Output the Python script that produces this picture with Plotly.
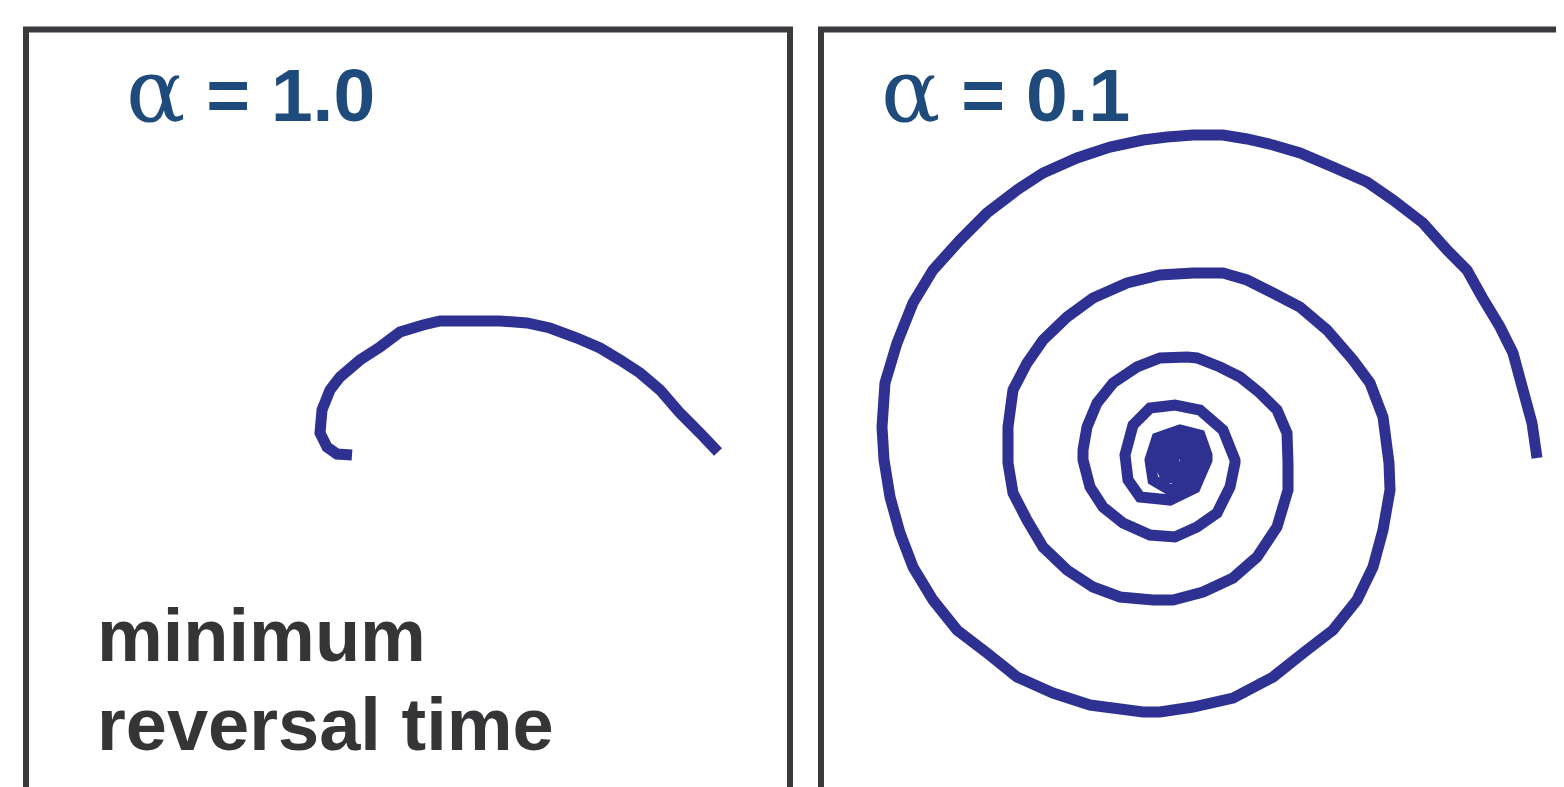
import plotly.graph_objects as go

# Panel labels
panel_labels = ["α = 1.0", "α = 0.1"]
caption_lines = ["minimum", "reversal time"]

# Left spiral (alpha = 1.0) (pixel-like units)
left_x = [718, 700, 680, 660, 640, 620, 600, 577, 550, 527, 500, 467, 440, 423,
          400, 380, 360, 340, 330, 322, 320, 327, 337, 352]
left_y = [452, 433, 413, 390, 373, 360, 348, 338, 328, 323, 321, 321, 321, 325,
          332, 347, 360, 377, 390, 410, 433, 447, 454, 455]

# Right spiral (alpha = 0.1)
right_x = [1537, 1532, 1523, 1513, 1500, 1482, 1467, 1447, 1423, 1393, 1367, 1333,
           1300, 1273, 1247, 1223, 1193, 1167, 1143, 1110, 1077, 1043, 1017, 987,
           960, 933, 913, 897, 885, 882, 884, 890, 900, 913, 933, 957, 987, 1017,
           1053, 1090, 1143, 1160, 1193, 1233, 1273, 1307, 1333, 1357, 1373, 1383,
           1390, 1389, 1383, 1370, 1353, 1327, 1300, 1273, 1247, 1223, 1193, 1160,
           1127, 1093, 1067, 1043, 1027, 1013, 1008, 1008, 1013, 1027, 1043, 1067,
           1093, 1120, 1153, 1173, 1203, 1233, 1257, 1277, 1288, 1288, 1287, 1277,
           1260, 1240, 1220, 1197, 1187, 1160, 1137, 1113, 1097, 1087, 1083, 1083,
           1090, 1103, 1123, 1150, 1175, 1197, 1217, 1230, 1235, 1235, 1223, 1200,
           1175, 1150, 1133, 1125, 1128, 1140, 1170, 1195, 1207, 1207,
           1200, 1180, 1157, 1150, 1153, 1170, 1190, 1199, 1199,
           1193, 1178, 1164, 1159, 1165, 1179, 1190, 1192,
           1186, 1174, 1167, 1169, 1178, 1186, 1185,
           1178, 1172, 1174, 1180]
right_y = [458, 423, 390, 353, 327, 297, 270, 250, 223, 200, 182, 167,
           153, 145, 139, 135, 135, 137, 140, 147, 158, 173, 190, 213,
           240, 270, 303, 343, 383, 427, 460, 497, 533, 567, 600, 630, 653, 677,
           693, 705, 712, 712, 707, 698, 677, 650, 630, 600, 567, 530,
           490, 463, 417, 383, 360, 330, 307, 293, 280, 273, 273, 275,
           283, 298, 317, 340, 363, 390, 427, 463, 493, 520, 547, 570,
           587, 597, 600, 600, 592, 578, 557, 527, 490, 463, 433, 410,
           393, 377, 367, 358, 357, 358, 367, 383, 403, 427, 450, 460,
           487, 507, 523, 535, 537, 527, 513, 487, 463, 460, 430, 410,
           405, 408, 425, 455, 480, 497, 500, 488, 460, 455,
           435, 430, 438, 460, 480, 490, 484, 465, 452,
           443, 439, 446, 462, 476, 480, 473, 459,
           450, 449, 458, 469, 471, 464, 456,
           453, 458, 464, 462]

LINE_COLOR = "#2e3192"
FRAME_COLOR = "#3a3a3e"
LABEL_COLOR = "#1f4a7c"
TEXT_COLOR = "#353538"
PAGE_OFFSET = 8  # default body margin of the html page

fig = go.Figure()
fig.add_trace(go.Scatter(x=left_x, y=left_y, mode="lines",
                         line=dict(color=LINE_COLOR, width=11, simplify=False),
                         hoverinfo="skip"))
fig.add_trace(go.Scatter(x=right_x, y=right_y, mode="lines",
                         line=dict(color=LINE_COLOR, width=11, simplify=False),
                         hoverinfo="skip"))

# panel frames
fig.add_shape(type="rect", x0=26, y0=29.5, x1=790, y1=900, xref="x", yref="y",
              line=dict(color=FRAME_COLOR, width=6))
fig.add_shape(type="rect", x0=821, y0=29.5, x1=1700, y1=900, xref="x", yref="y",
              line=dict(color=FRAME_COLOR, width=6))

def label(txt):
    a, rest = txt.split(" ", 1)
    return ('<span style="font-family:DejaVu Serif;font-weight:normal;font-size:88px">'
            + a + '</span><b> ' + rest + '</b>')

for xpos, txt in zip([124, 879], panel_labels):
    fig.add_annotation(x=xpos, y=90, xref="x", yref="y", text=label(txt),
                       showarrow=False, xanchor="left", yanchor="middle",
                       font=dict(family="Liberation Sans", size=75, color=LABEL_COLOR))

for ypos, txt in zip([635, 724], caption_lines):
    fig.add_annotation(x=95, y=ypos, xref="x", yref="y", text="<b>" + txt + "</b>",
                       showarrow=False, xanchor="left", yanchor="middle",
                       font=dict(family="Liberation Sans", size=74, color=TEXT_COLOR))

fig.update_xaxes(range=[PAGE_OFFSET, 1564 + PAGE_OFFSET], visible=False, fixedrange=True)
fig.update_yaxes(range=[787 + PAGE_OFFSET, PAGE_OFFSET], visible=False, fixedrange=True)
fig.update_layout(width=1564, height=787, autosize=False,
                  margin=dict(l=0, r=0, t=0, b=0),
                  paper_bgcolor="white", plot_bgcolor="white", showlegend=False)

fig.write_html("out.html")
